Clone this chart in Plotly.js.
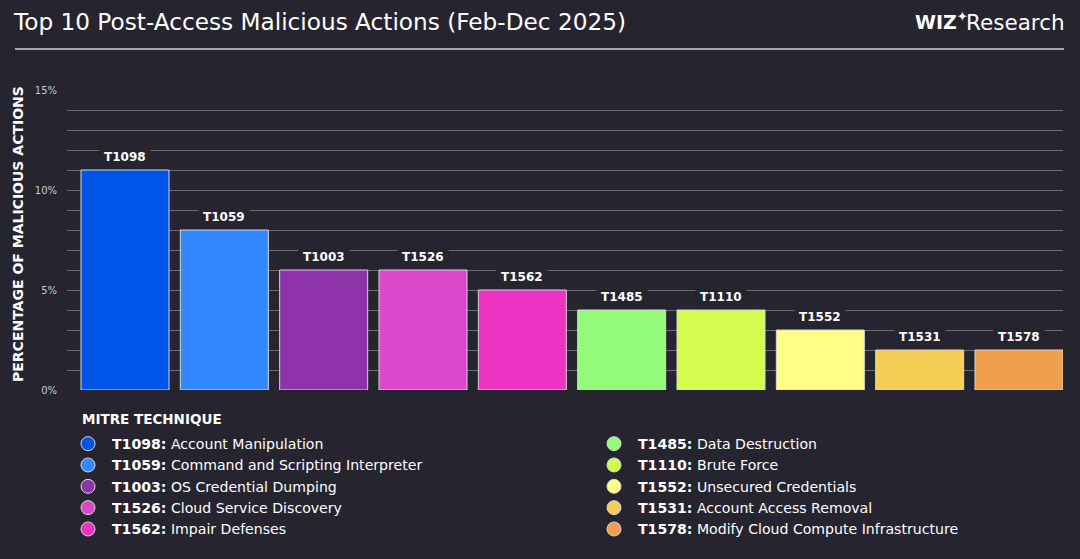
<!DOCTYPE html>
<html>
<head>
<meta charset="utf-8">
<script src="https://cdn.plot.ly/plotly-3.0.1.min.js"></script>
<style>
html,body{margin:0;padding:0;background:#25242f;}
#chart{width:1080px;height:559px;}
</style>
</head>
<body>
<div id="chart"></div>
<script>
// ---- data ----
const codes = ["T1098","T1059","T1003","T1526","T1562","T1485","T1110","T1552","T1531","T1578"];
const names = ["Account Manipulation","Command and Scripting Interpreter","OS Credential Dumping","Cloud Service Discovery","Impair Defenses","Data Destruction","Brute Force","Unsecured Credentials","Account Access Removal","Modify Cloud Compute Infrastructure"];
const values = [11, 8, 6, 6, 5, 4, 4, 3, 2, 2];
const colors = ["#0055e8","#3388ff","#8e33aa","#dc47cc","#ec33c4","#94fb7a","#d5fb4e","#fdfe83","#f5cf55","#f09f4c"];
const yTickVals = [0, 5, 10, 15];
const yTickText = ["0%", "5%", "10%", "15%"];

const BG = "#25242f";
const FONT = "DejaVu Sans, Open Sans, sans-serif";
const GRID = "#6b6b72";

const traces = [{
  type: "bar",
  x: codes,
  y: values,
  width: 0.886,
  marker: {color: colors, line: {color: "#d6d6da", width: 1}},
  showlegend: false,
  hoverinfo: "skip"
}];

codes.forEach((c, i) => {
  traces.push({
    type: "scatter",
    mode: "markers",
    x: [null], y: [null],
    name: "<b>" + c + ":</b> " + names[i],
    marker: {color: colors[i], size: 14, symbol: "circle", line: {color: "#d6d6da", width: 1}},
    legend: i < 5 ? "legend" : "legend2",
    hoverinfo: "skip"
  });
});

const annotations = codes.map((c, i) => ({
  x: c, y: values[i], xref: "x", yref: "y",
  text: "<b>" + c + "</b>",
  showarrow: false, yanchor: "bottom", yshift: 1,
  bgcolor: BG, borderpad: 4,
  font: {family: FONT, size: 12, color: "#ffffff"}
}));

annotations.push({
  xref: "paper", yref: "paper", x: (18 - 67) / 996, y: (390 - 234) / 300,
  text: "<b>PERCENTAGE OF MALICIOUS ACTIONS</b>", textangle: -90,
  showarrow: false, xanchor: "center", yanchor: "middle",
  font: {family: FONT, size: 14, color: "#ffffff"}
});
annotations.push({
  xref: "paper", yref: "paper", x: (80 - 67) / 996, y: (390 - 419) / 300,
  text: "<b>MITRE TECHNIQUE</b>",
  showarrow: false, xanchor: "left", yanchor: "middle",
  font: {family: FONT, size: 13.5, color: "#ffffff"}
});
// logo
annotations.push({
  xref: "paper", yref: "paper", x: (970 - 67) / 996, y: (390 - 21) / 300,
  text: "<b>WIZ</b><sup>✦</sup>",
  showarrow: false, xanchor: "right", yanchor: "middle",
  font: {family: FONT, size: 19, color: "#ffffff"}
});
annotations.push({
  xref: "paper", yref: "paper", x: (964 - 67) / 996, y: (390 - 23) / 300,
  text: "Research",
  showarrow: false, xanchor: "left", yanchor: "middle",
  font: {family: FONT, size: 21.5, color: "#ffffff"}
});

const layout = {
  width: 1080, height: 559,
  paper_bgcolor: BG, plot_bgcolor: BG,
  margin: {l: 67, r: 17, t: 90, b: 169, autoexpand: false},
  font: {family: FONT, color: "#ffffff"},
  title: {
    text: "Top 10 Post-Access Malicious Actions (Feb-Dec 2025)",
    xref: "container", yref: "container",
    x: 14 / 1080, xanchor: "left", y: 1 - 22 / 559, yanchor: "middle",
    font: {family: FONT, size: 23.2, color: "#ffffff"}
  },
  xaxis: {
    type: "category",
    range: [-0.584, 9.443],
    showticklabels: false, showgrid: false, zeroline: false, showline: false, ticks: ""
  },
  yaxis: {
    range: [0, 15],
    tickmode: "array", tickvals: yTickVals, ticktext: yTickText,
    showgrid: true, gridcolor: GRID, gridwidth: 1,
    minor: {tickmode: "linear", tick0: 0, dtick: 1, showgrid: true, gridcolor: GRID, gridwidth: 1, ticks: ""},
    zeroline: false, showline: false,
    ticks: "outside", ticklen: 7, tickcolor: "rgba(0,0,0,0)",
    tickfont: {family: FONT, size: 10, color: "#c8c8cc"}
  },
  shapes: [{
    type: "line", xref: "paper", yref: "paper",
    x0: (15 - 67) / 996, x1: (1064 - 67) / 996,
    y0: (390 - 49) / 300, y1: (390 - 49) / 300,
    line: {color: "#a4a4ac", width: 2}
  }],
  annotations: annotations,
  showlegend: true,
  legend: {
    x: (64 - 67) / 996, y: (390 - 428) / 300, xanchor: "left", yanchor: "top",
    orientation: "v", bgcolor: "rgba(0,0,0,0)", borderwidth: 0,
    itemwidth: 38, tracegroupgap: 0,
    font: {family: FONT, size: 14.1, color: "#ffffff"}
  },
  legend2: {
    x: (590 - 67) / 996, y: (390 - 428) / 300, xanchor: "left", yanchor: "top",
    orientation: "v", bgcolor: "rgba(0,0,0,0)", borderwidth: 0,
    itemwidth: 38, tracegroupgap: 0,
    font: {family: FONT, size: 14.1, color: "#ffffff"}
  }
};

Plotly.newPlot("chart", traces, layout, {staticPlot: true, displayModeBar: false});
</script>
</body>
</html>
